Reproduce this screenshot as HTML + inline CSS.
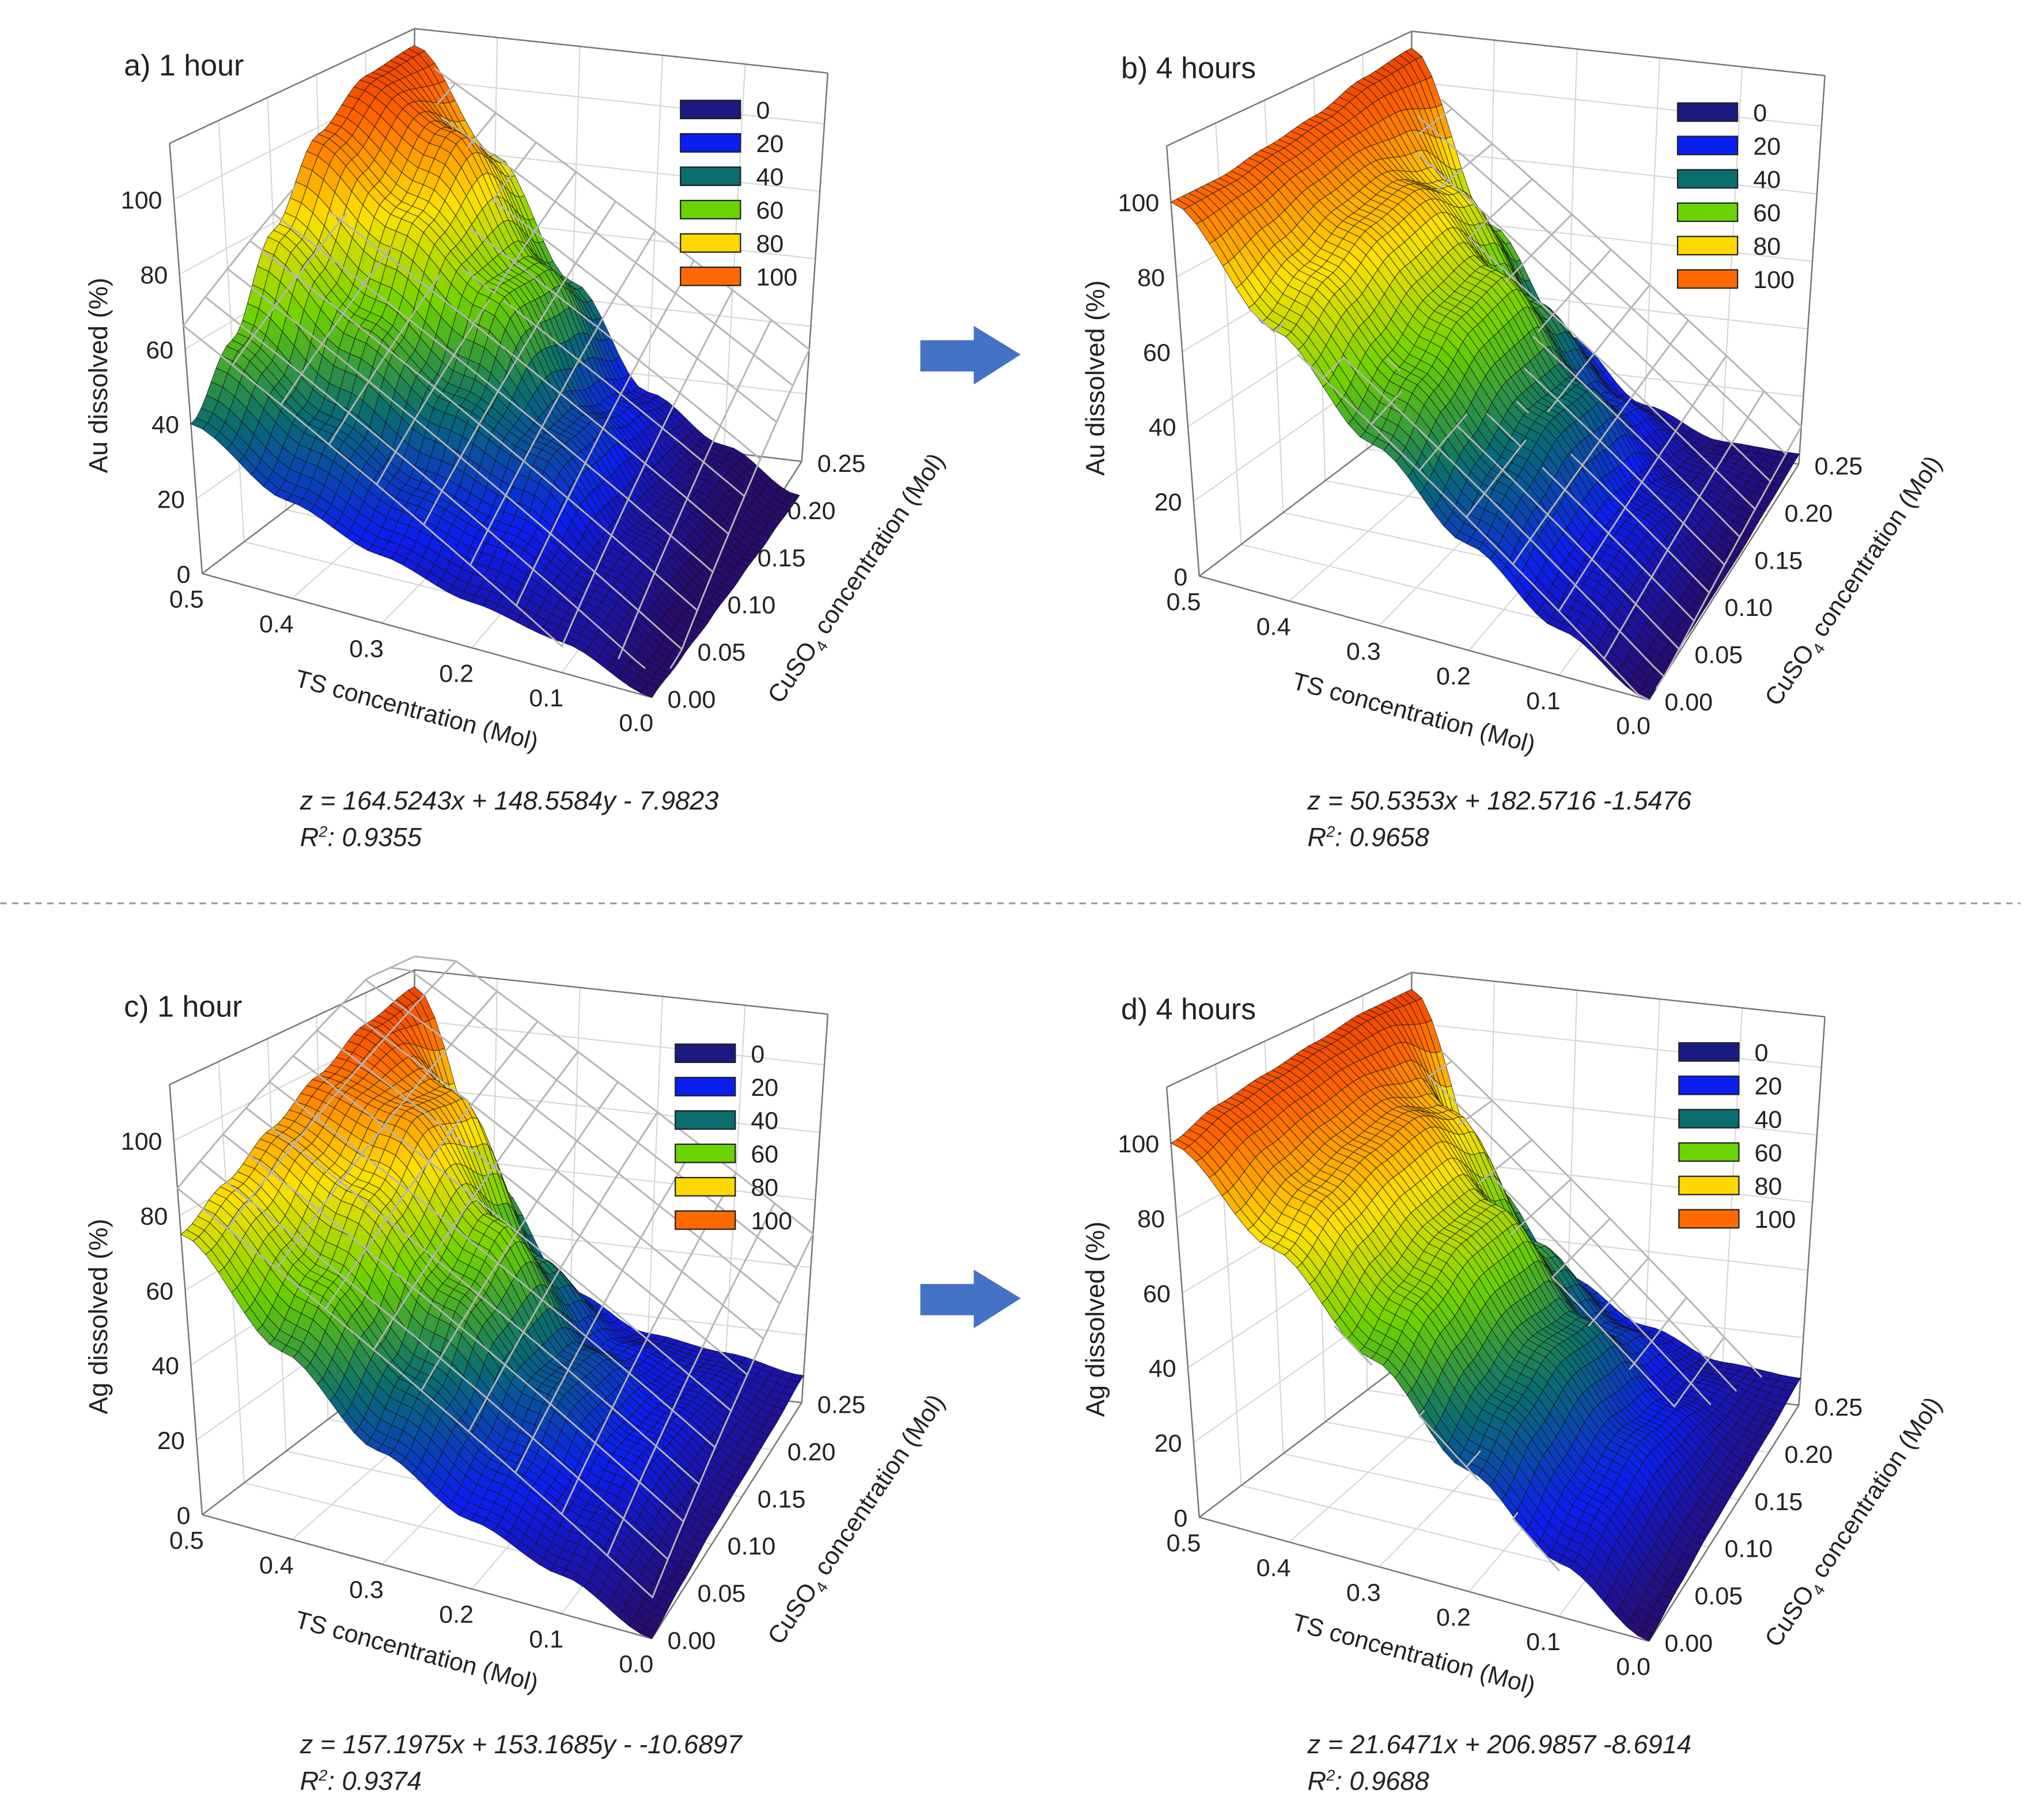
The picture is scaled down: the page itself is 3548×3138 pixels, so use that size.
<!DOCTYPE html>
<html><head><meta charset="utf-8"><style>
html,body{margin:0;padding:0;background:#fff}
svg{display:block}
text{font-family:"Liberation Sans",Arial,sans-serif;fill:#222}
</style></head><body>
<svg id="fig" xmlns="http://www.w3.org/2000/svg" width="3548" height="3138" viewBox="0 0 1568 1387">
<rect width="1568" height="1387" fill="#fff"/>
<line x1="0" y1="693" x2="1550" y2="693" stroke="#999" stroke-width="1.3" stroke-dasharray="5,4"/>
<g><polygon points="706,261 747,261 747,250 783,272 747,295 747,285 706,285" fill="#4472c4"/></g>
<g><polygon points="706,985 747,985 747,974 783,996 747,1019 747,1009 706,1009" fill="#4472c4"/></g>
<g id="panels"></g>
</svg>
<script>
const tsVals=[0,0.1,0.2,0.3,0.4,0.5];
const cuVals=[0,0.05,0.1,0.15,0.2,0.25];
// rows: ts index (0..0.5), cols: cu index (0..0.25)
const zA=[[0,-2,-4,-6,-8,-10],[8,10,10,7,4,2],[12,20,32,30,22,15],[18,26,42,62,60,45],[26,38,58,80,95,80],[40,55,78,98,108,110]];
const zB=[[0,1,1,1,2,3],[12,16,18,14,8,4],[28,36,42,40,25,12],[48,58,66,68,50,30],[72,80,86,88,80,60],[100,100,102,104,108,110]];
const zC=[[0,2,4,5,6,8],[10,15,20,18,15,12],[18,24,34,32,22,15],[30,40,55,65,45,25],[50,62,78,92,90,55],[75,82,90,98,106,110]];
const zD=[[0,2,4,5,6,8],[14,20,24,20,14,10],[32,40,45,42,28,18],[55,64,70,70,50,30],[78,86,90,92,85,55],[100,104,106,108,110,110]];
// fitted planes z = a*cu + b*ts + c
const planeA=[164.5243,148.5584,-7.9823];
const planeB=[50.5353,182.5716,-1.5476];
const planeC=[157.1975,153.1685,10.6897];
const planeD=[21.6471,206.9857,-8.6914];
const zTicks=[0,20,40,60,80,100];
const tsTicks=[0.5,0.4,0.3,0.2,0.1,0.0];
const cuTicks=[0.00,0.05,0.10,0.15,0.20,0.25];
const legendVals=[0,20,40,60,80,100];
const legendColors=["#1a1a80","#0a1ef0","#0a6e6e","#6bd400","#ffd800","#ff6a00"];

const NS="http://www.w3.org/2000/svg";
const ZTOP=115;
function mk(tag,attrs,parent){const e=document.createElementNS(NS,tag);for(const k in attrs)e.setAttribute(k,attrs[k]);parent.appendChild(e);return e;}
function lerp(a,b,t){return a+(b-a)*t;}
function cmap(z){
  const stops=[[0,[40,12,110]],[20,[12,30,240]],[40,[10,110,110]],[60,[110,210,0]],[80,[255,225,0]],[100,[255,100,0]],[115,[230,50,0]]];
  z=Math.max(0,Math.min(115,z));
  for(let i=0;i<stops.length-1;i++){if(z<=stops[i+1][0]){const t=(z-stops[i][0])/(stops[i+1][0]-stops[i][0]);const c=stops[i][1].map((v,k)=>Math.round(lerp(v,stops[i+1][1][k],t)));return `rgb(${c[0]},${c[1]},${c[2]})`;}}
  return "rgb(230,50,0)";
}
function interp(grid,ts,cu){
  let fi=ts/0.1, fj=cu/0.05;
  let i=Math.min(4,Math.floor(fi)), j=Math.min(4,Math.floor(fj));
  let ti=fi-i, tj=fj-j;
  ti=ti*ti*(3-2*ti); tj=tj*tj*(3-2*tj);
  const a=grid[i][j],b=grid[i+1][j],c=grid[i][j+1],d=grid[i+1][j+1];
  return lerp(lerp(a,b,ti),lerp(c,d,ti),tj);
}
function makePanel(opt){
  const g=mk("g",{},document.getElementById("panels"));
  
  
  const dx=opt.dx,dy=opt.dy;
  const F=[[155,440],[500,535],[615,354],[316,318]].map(p=>[p[0]+dx,p[1]+dy]);
  const T=[[130,110],[505,195],[635,56],[318,22]].map(p=>[p[0]+dx,p[1]+dy]);
  function bil(C,ts,cu){const u=ts/0.5,v=cu/0.25;
    const x=C[1][0]*(1-u)*(1-v)+C[0][0]*u*(1-v)+C[2][0]*(1-u)*v+C[3][0]*u*v;
    const y=C[1][1]*(1-u)*(1-v)+C[0][1]*u*(1-v)+C[2][1]*(1-u)*v+C[3][1]*u*v;return [x,y];}
  function P(ts,cu,z){const a=bil(F,ts,cu),b=bil(T,ts,cu),w=z/ZTOP;return [lerp(a[0],b[0],w),lerp(a[1],b[1],w)];}
  const grid=mk("g",{stroke:"#d4d4d4","stroke-width":"0.9",fill:"none"},g);
  
  
  function ln(p,q,par,attrs){return mk("line",Object.assign({x1:p[0],y1:p[1],x2:q[0],y2:q[1]},attrs||{}),par);}
  zTicks.forEach(z=>{ln(P(0.5,0,z),P(0.5,0.25,z),grid);ln(P(0.5,0.25,z),P(0,0.25,z),grid);});
  tsTicks.forEach(t=>{ln(P(t,0.25,0),P(t,0.25,ZTOP),grid);ln(P(t,0,0),P(t,0.25,0),grid);});
  cuTicks.forEach(c=>{ln(P(0.5,c,0),P(0.5,c,ZTOP),grid);ln(P(0.5,c,0),P(0,c,0),grid);});
  const edges=mk("g",{stroke:"#777","stroke-width":"1.1"},g);
  
  
  [[F[0],T[0]],[T[0],T[3]],[T[3],T[2]],[F[3],T[3]],[T[2],F[2]],[F[0],F[1]],[F[1],F[2]],[F[0],F[3]],[F[3],F[2]]].forEach(e=>ln(e[0],e[1],edges));
  const surf=mk("g",{stroke:"#111","stroke-width":"0.45","stroke-opacity":"0.75"},g);
  
  
  const N=40,cells=[];
  for(let i=0;i<N;i++)for(let j=0;j<N;j++){
    const t0=0.5*i/N,t1=0.5*(i+1)/N,c0=0.25*j/N,c1=0.25*(j+1)/N;
    const z00=interp(opt.data,t0,c0),z10=interp(opt.data,t1,c0),z11=interp(opt.data,t1,c1),z01=interp(opt.data,t0,c1);
    const pts=[P(t0,c0,z00),P(t1,c0,z10),P(t1,c1,z11),P(t0,c1,z01)];
    const depth=bil(F,(t0+t1)/2,(c0+c1)/2)[1];
    cells.push({pts,depth,z:(z00+z10+z11+z01)/4});
  }
  cells.sort((a,b)=>a.depth-b.depth);
  cells.forEach(c=>{const p=mk("polygon",{points:c.pts.map(q=>q[0].toFixed(1)+","+q[1].toFixed(1)).join(" "),fill:cmap(c.z)},surf);
    
    });
  const pl=mk("g",{stroke:"#b4b4b4","stroke-width":"1.3",fill:"none","stroke-linecap":"round"},g);
  
  
  const pzr=(ts,cu)=>opt.plane[0]*cu+opt.plane[1]*ts+opt.plane[2];
  const pz=(ts,cu)=>Math.max(0,Math.min(ZTOP+4,pzr(ts,cu)));
  function seg(ta,ca,tb,cb){
    const tm=(ta+tb)/2,cm=(ca+cb)/2;
    if(pzr(tm,cm)<interp(opt.data,tm,cm)-1)return "";
    const a=P(ta,ca,pz(ta,ca)),b=P(tb,cb,pz(tb,cb));
    return "M"+a[0].toFixed(1)+","+a[1].toFixed(1)+"L"+b[0].toFixed(1)+","+b[1].toFixed(1);
  }
  const S=40;
  for(let k=0;k<=10;k++){
    const t=0.05*k,c=0.025*k;let d="";
    for(let s=0;s<S;s++){
      d+=seg(t,0.25*s/S,t,0.25*(s+1)/S);
      d+=seg(0.5*s/S,c,0.5*(s+1)/S,c);
    }
    if(d)mk("path",{d:d},pl);
  }
  const tl=mk("g",{"font-size":"19"},g);
  
  
  zTicks.forEach(z=>{const p=P(0.5,0,z);const t=mk("text",{x:p[0]-9,y:p[1]+7,"text-anchor":"end"},tl);t.textContent=String(z);});
  tsTicks.forEach(v=>{const p=P(v,0,0);const t=mk("text",{x:p[0]-12,y:p[1]+26,"text-anchor":"middle"},tl);t.textContent=v.toFixed(1);});
  cuTicks.forEach(v=>{const p=P(0,v,0);const t=mk("text",{x:p[0]+12,y:p[1]+8,"text-anchor":"start"},tl);t.textContent=v.toFixed(2);});
  const zt=mk("text",{x:0,y:0,"font-size":"20","text-anchor":"middle",transform:`translate(${82+dx},${288+dy}) rotate(-90)`},g);
  zt.textContent=opt.ztitle;
  const xt=mk("text",{x:0,y:0,"font-size":"19","text-anchor":"middle",transform:`translate(${318+dx},${551+dy}) rotate(15)`},g);
  xt.textContent="TS concentration (Mol)";
  const yt=mk("text",{x:0,y:0,"font-size":"19","text-anchor":"middle",transform:`translate(${662+dx},${447+dy}) rotate(-56)`},g);
  
  yt.innerHTML='CuSO<tspan font-size="12" dy="5">4</tspan><tspan dy="-5"> concentration (Mol)</tspan>';
  const ti=mk("text",{x:95+dx,y:58+dy,"font-size":"23"},g);
  ti.textContent=opt.title;
  const lg=mk("g",{},g);
  
  legendVals.forEach((v,k)=>{const y=opt.ly+k*25.6;
    const r=mk("rect",{x:opt.lx,y:y-7,width:46,height:14,fill:legendColors[k],stroke:"#222","stroke-width":"1"},lg);
    
    const t=mk("text",{x:opt.lx+58,y:y+7,"font-size":"19"},lg);t.textContent=String(v);
    });
  const eq=mk("text",{x:opt.ex,y:opt.ey,"font-size":"20","font-style":"italic"},g);
  eq.textContent=opt.eq;
  const r2=mk("text",{x:opt.ex,y:opt.ey+28,"font-size":"20","font-style":"italic"},g);
  
  r2.innerHTML='R<tspan font-size="12" dy="-7">2</tspan><tspan dy="7">: '+opt.r2+'</tspan>';
}
makePanel({name:"panel-a",dx:0,dy:0,data:zA,plane:planeA,title:"a) 1 hour",ztitle:"Au dissolved (%)",lx:522,ly:84,ex:230,ey:621,eq:"z = 164.5243x + 148.5584y - 7.9823",r2:"0.9355"});
makePanel({name:"panel-b",dx:765,dy:2,data:zB,plane:planeB,title:"b) 4 hours",ztitle:"Au dissolved (%)",lx:1287,ly:86,ex:1003,ey:621,eq:"z = 50.5353x + 182.5716 -1.5476",r2:"0.9658"});
makePanel({name:"panel-c",dx:0,dy:722,data:zC,plane:planeC,title:"c) 1 hour",ztitle:"Ag dissolved (%)",lx:518,ly:808,ex:230,ey:1345,eq:"z = 157.1975x + 153.1685y - -10.6897",r2:"0.9374"});
makePanel({name:"panel-d",dx:765,dy:724,data:zD,plane:planeD,title:"d) 4 hours",ztitle:"Ag dissolved (%)",lx:1288,ly:807,ex:1003,ey:1345,eq:"z = 21.6471x + 206.9857 -8.6914",r2:"0.9688"});
</script>
</body></html>
